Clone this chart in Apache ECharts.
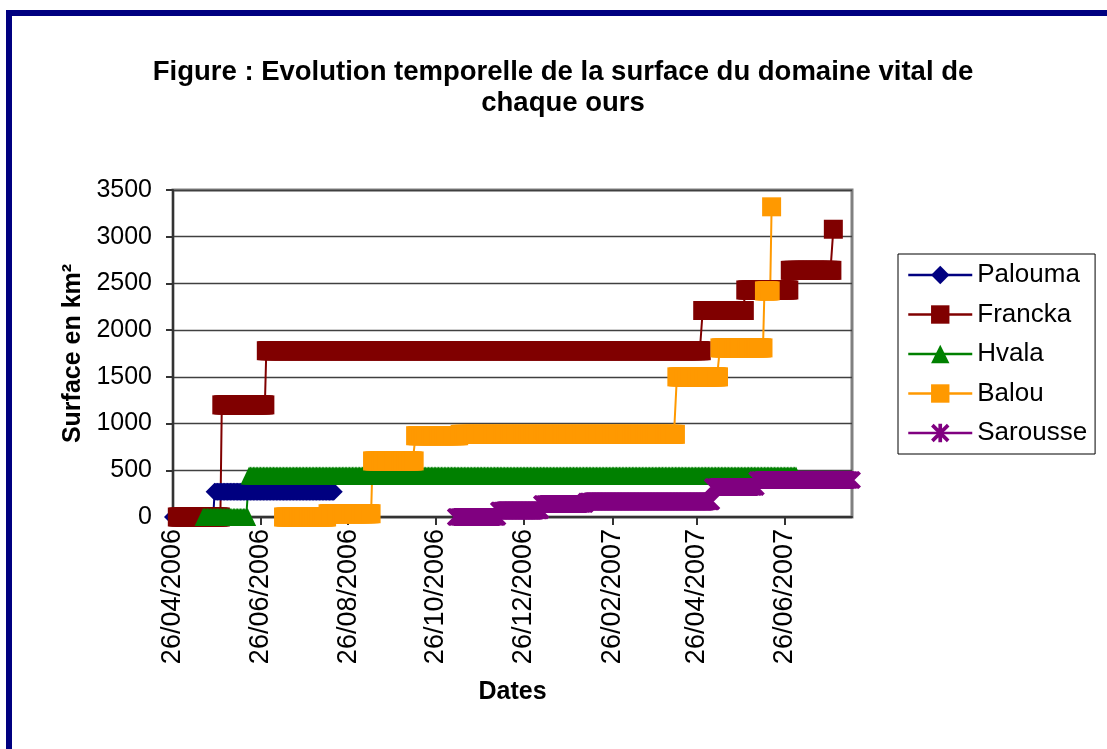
<!DOCTYPE html>
<html>
<head>
<meta charset="utf-8">
<script src="https://cdn.jsdelivr.net/npm/echarts@6/dist/echarts.min.js"></script>
<style>
html, body { margin: 0; padding: 0; background: #fff; }
#chart { width: 1107px; height: 749px; }
</style>
</head>
<body>
<div id="chart"></div>
<script>
const FONT = '"Liberation Sans", Arial, sans-serif';

// date axis: one category per day
const firstDay = '26/04/2006';
const lastDay = '12/08/2007';
const xTickLabels = ['26/04/2006', '26/06/2006', '26/08/2006', '26/10/2006',
    '26/12/2006', '26/02/2007', '26/04/2007', '26/06/2007'];
const yMin = 0, yMax = 3500, yStep = 500;

// step values: first day, last day, surface (km²)
const paloumaFrom = ['26/04/2006', '25/05/2006'];
const paloumaTo   = ['24/05/2006', '16/08/2006'];
const paloumaKm2  = [0, 270];

const franckaFrom = ['29/04/2006', '30/05/2006', '30/06/2006', '30/04/2007', '30/05/2007', '30/06/2007', '30/07/2007'];
const franckaTo   = ['29/05/2006', '29/06/2006', '29/04/2007', '29/05/2007', '29/06/2007', '29/07/2007', '30/07/2007'];
const franckaKm2  = [0, 1200, 1780, 2210, 2430, 2640, 3080];

const hvalaFrom = ['17/05/2006', '18/06/2006'];
const hvalaTo   = ['17/06/2006', '04/07/2007'];
const hvalaKm2  = [0, 445];

const balouFrom = ['12/07/2006', '12/08/2006', '12/09/2006', '12/10/2006', '12/11/2006', '12/04/2007', '12/05/2007', '12/06/2007', '17/06/2007'];
const balouTo   = ['11/08/2006', '11/09/2006', '11/10/2006', '11/11/2006', '11/04/2007', '11/05/2007', '11/06/2007', '16/06/2007', '17/06/2007'];
const balouKm2  = [0, 35, 600, 870, 885, 1500, 1810, 2420, 3320];

const sarousseFrom = ['09/11/2006', '09/12/2006', '08/01/2007', '08/02/2007', '07/05/2007', '07/06/2007'];
const sarousseTo   = ['08/12/2006', '07/01/2007', '07/02/2007', '06/05/2007', '06/06/2007', '12/08/2007'];
const sarousseKm2  = [0, 70, 140, 165, 320, 395];

function toTime(s) {
    const p = s.split('/').map(Number);
    return Date.UTC(p[2], p[1] - 1, p[0]);
}
function fmt(t) {
    const d = new Date(t);
    const pad = n => (n < 10 ? '0' : '') + n;
    return pad(d.getUTCDate()) + '/' + pad(d.getUTCMonth() + 1) + '/' + d.getUTCFullYear();
}
const DAY = 86400000;
const days = [];
for (let t = toTime(firstDay); t <= toTime(lastDay); t += DAY) days.push(fmt(t));
const dayIndex = s => Math.round((toTime(s) - toTime(firstDay)) / DAY);

function steps(from, to, km2) {
    const arr = new Array(days.length).fill('-');
    for (let i = 0; i < km2.length; i++) {
        for (let k = dayIndex(from[i]); k <= dayIndex(to[i]); k++) arr[k] = km2[i];
    }
    return arr;
}

const asterisk = 'path://M40 0L60 0L60 100L40 100Z M0 14L14 0L100 86L86 100Z M86 0L100 14L14 100L0 86Z';

const bears = [
    { name: 'Palouma', color: '#000080', symbol: 'diamond', size: 18, data: steps(paloumaFrom, paloumaTo, paloumaKm2) },
    { name: 'Francka', color: '#800000', symbol: 'rect', size: 19, data: steps(franckaFrom, franckaTo, franckaKm2) },
    { name: 'Hvala', color: '#008000', symbol: 'triangle', size: [17, 18], data: steps(hvalaFrom, hvalaTo, hvalaKm2) },
    { name: 'Balou', color: '#FF9900', symbol: 'rect', size: 19, data: steps(balouFrom, balouTo, balouKm2) },
    { name: 'Sarousse', color: '#800080', symbol: asterisk, size: 18, data: steps(sarousseFrom, sarousseTo, sarousseKm2) }
];

const isTick = (i, v) => xTickLabels.indexOf(v) >= 0;

// lines first (below every marker), then the markers of each series, like Excel does
const series = [];
bears.forEach(b => {
    series.push({
        type: 'line', name: b.name + ' ligne', data: b.data, symbol: 'none',
        lineStyle: { color: b.color, width: 2 }, z: 2, silent: true, clip: false
    });
});
bears.forEach(b => {
    series.push({
        type: 'line', name: b.name, data: b.data, color: b.color,
        symbol: b.symbol, symbolSize: b.size, showSymbol: true, showAllSymbol: true,
        itemStyle: { color: b.color, borderWidth: 0 },
        lineStyle: { color: b.color, width: 2, opacity: 0 },
        z: 3, clip: false
    });
});

const chart = echarts.init(document.getElementById('chart'));
chart.setOption({
    animation: false,
    backgroundColor: '#fff',
    textStyle: { fontFamily: FONT },
    graphic: [
        {
            type: 'rect', shape: { x: 9, y: 13, width: 1200, height: 1000 },
            style: { fill: 'none', stroke: '#000080', lineWidth: 6 }, z: 100
        },
        {
            type: 'text', x: 563, y: 57,
            style: {
                text: 'Figure : Evolution temporelle de la surface du domaine vital de\nchaque ours',
                fontFamily: FONT, fontSize: 27.5, fontWeight: 'bold', fill: '#000',
                align: 'center', verticalAlign: 'top', lineHeight: 31
            }
        }
    ],
    grid: {
        left: 173, top: 190, right: 255, bottom: 232,
        show: true, borderColor: '#808080', borderWidth: 3,
        outerBoundsMode: 'none'
    },
    legend: {
        orient: 'vertical', left: 898, top: 254,
        padding: [8, 8, 8, 9], itemWidth: 64, itemHeight: 23, itemGap: 13.5,
        borderColor: '#000', borderWidth: 1, backgroundColor: '#fff',
        selectedMode: false,
        textStyle: { fontFamily: FONT, fontSize: 26, color: '#000' },
        data: bears.map(b => ({ name: b.name, lineStyle: { opacity: 1, width: 2.5 } }))
    },
    xAxis: {
        type: 'category', data: days, boundaryGap: false,
        name: 'Dates', nameLocation: 'middle', nameGap: 163,
        nameTextStyle: { fontFamily: FONT, fontSize: 25, fontWeight: 'bold', color: '#000' },
        axisLine: { lineStyle: { color: '#333', width: 2 } },
        axisTick: { show: true, interval: isTick, length: 8, lineStyle: { color: '#333', width: 2 } },
        axisLabel: { interval: isTick, rotate: 90, margin: 12, fontFamily: FONT, fontSize: 27, color: '#000' },
        splitLine: { show: false }
    },
    yAxis: {
        type: 'value', min: yMin, max: yMax, interval: yStep,
        name: 'Surface en km²', nameLocation: 'middle', nameGap: 84, nameRotate: 90,
        nameTextStyle: { fontFamily: FONT, fontSize: 25, fontWeight: 'bold', color: '#000' },
        axisLine: { show: true, lineStyle: { color: '#333', width: 2 } },
        axisTick: { show: true, length: 7, lineStyle: { color: '#333', width: 2 } },
        axisLabel: { margin: 21, fontFamily: FONT, fontSize: 25, color: '#000', formatter: v => String(v) },
        splitLine: { show: true, lineStyle: { color: '#404040', width: 1.3 } }
    },
    series: series
});
</script>
</body>
</html>
